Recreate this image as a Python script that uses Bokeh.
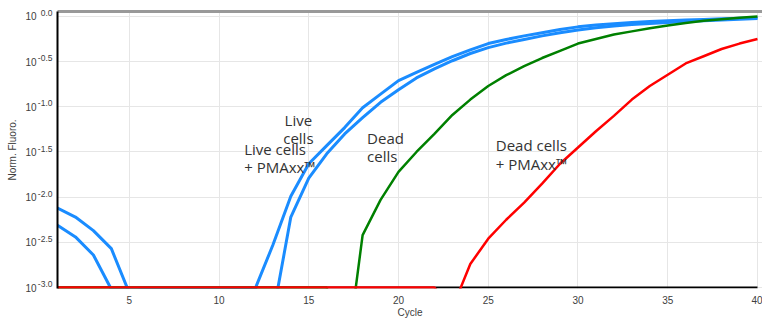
from bokeh.plotting import figure
from bokeh.models import (Range1d, FixedTicker, LinearAxis, Label, PrintfTickFormatter,
                          NumeralTickFormatter, Grid)
from bokeh.embed import file_html
from bokeh.resources import INLINE

# ---- data (y values are log10 of normalised fluorescence) ----
cycles = list(range(1, 41))

live_cells = [-2.12, -2.22, -2.37, -2.57, -3.06, -3.0, -3.0, -3.0, -3.0, -3.0,
              -3.0, -3.02, -2.53, -1.99, -1.63, -1.43, -1.23, -1.01, -0.86, -0.71,
              -0.62, -0.53, -0.445, -0.37, -0.30, -0.255, -0.215, -0.18, -0.145, -0.115,
              -0.095, -0.08, -0.067, -0.057, -0.048, -0.040, -0.033, -0.026, -0.019, -0.013]

live_pmaxx = [-2.31, -2.44, -2.64, -3.02, -3.0, -3.0, -3.0, -3.0, -3.0, -3.0,
              -3.0, -3.0, -3.31, -2.22, -1.79, -1.52, -1.30, -1.12, -0.95, -0.81,
              -0.68, -0.58, -0.49, -0.41, -0.345, -0.295, -0.255, -0.215, -0.18, -0.15,
              -0.125, -0.105, -0.09, -0.078, -0.067, -0.057, -0.048, -0.039, -0.03, -0.022]

dead_cells = [-3.0, -3.0, -3.0, -3.0, -3.0, -3.0, -3.0, -3.0, -3.0, -3.0,
              -3.0, -3.0, -3.0, -3.0, -3.0, -3.0, -3.94, -2.42, -2.03, -1.72,
              -1.50, -1.30, -1.09, -0.92, -0.77, -0.65, -0.55, -0.46, -0.38, -0.30,
              -0.25, -0.20, -0.165, -0.13, -0.10, -0.072, -0.047, -0.03, -0.015, 0.0]

dead_pmaxx = [-3.0, -3.0, -3.0, -3.0, -3.0, -3.0, -3.0, -3.0, -3.0, -3.0,
              -3.0, -3.0, -3.0, -3.0, -3.0, -3.0, -3.0, -3.0, -3.0, -3.0,
              -3.0, -3.0, -3.23, -2.74, -2.46, -2.25, -2.06, -1.85, -1.63, -1.45,
              -1.27, -1.10, -0.92, -0.77, -0.645, -0.52, -0.44, -0.36, -0.30, -0.25]

no_template = [-3.0, -3.0, -3.0, -3.0, -3.0, -3.0, -3.0, -3.0, -3.0, -3.0,
               -3.0, -3.0, -3.0, -3.0, -3.0, -3.0, -3.0, -3.0, -3.0, -3.0,
               -3.0, -3.0, -3.0, -3.0, -3.0, -3.0, -3.0, -3.0, -3.0, -3.0,
               -3.0, -3.0, -3.0, -3.0, -3.0, -3.0, -3.0, -3.0, -3.0, -3.0]

x_ticks = [5, 10, 15, 20, 25, 30, 35, 40]
y_ticks = [-3.0, -2.5, -2.0, -1.5, -1.0, -0.5, 0.0]

annotations = [
    ("Live", 14.42, -1.143, "center"),
    ("cells", 14.42, -1.344, "center"),
    ("Live cells", 11.40, -1.472, "left"),
    ("+ PMAxx™", 11.40, -1.670, "left"),
    ("Dead", 18.25, -1.341, "left"),
    ("cells", 18.25, -1.544, "left"),
    ("Dead cells", 25.42, -1.418, "left"),
    ("+ PMAxx™", 25.42, -1.637, "left"),
]

BLUE = "#1a8cff"
GREEN = "#008000"
RED = "#ff0000"
TICK_FONT = "Liberation Sans"
TXT = "#404040"

Y0, Y1 = -3.011, 0.055
SUP_SHIFT = 0.038   # raises the exponent labels by a few pixels

p = figure(width=762, height=320, output_backend="svg", toolbar_location=None,
           x_range=Range1d(1, 40.28), y_range=Range1d(Y0, Y1), y_axis_location=None,
           min_border_left=57, min_border_right=0, min_border_top=11, min_border_bottom=30)
p.extra_y_ranges = {"sup": Range1d(Y0 - SUP_SHIFT, Y1 - SUP_SHIFT)}
p.outline_line_color = None
p.background_fill_color = "white"

# x axis
p.xaxis.ticker = FixedTicker(ticks=x_ticks)
p.xaxis.axis_line_color = None
p.xaxis.major_tick_line_color = None
p.xaxis.minor_tick_line_color = None
p.xaxis.major_tick_out = 0
p.xaxis.major_tick_in = 0
p.xaxis.major_label_standoff = 7
p.xaxis.major_label_text_font = TICK_FONT
p.xaxis.major_label_text_font_size = "10px"
p.xaxis.major_label_text_color = TXT
p.xaxis.axis_label = "Cycle"
p.xaxis.axis_label_standoff = 0
p.xaxis.axis_label_text_font = TICK_FONT
p.xaxis.axis_label_text_font_size = "10px"
p.xaxis.axis_label_text_font_style = "normal"
p.xaxis.axis_label_text_color = TXT

# inner y axis: exponent (superscript) part of the tick labels, slightly raised
sup_axis = LinearAxis(y_range_name="sup", ticker=FixedTicker(ticks=y_ticks),
                      formatter=NumeralTickFormatter(format="0.0"),
                      axis_line_color="black", axis_line_width=2,
                      major_tick_line_color=None, minor_tick_line_color=None,
                      major_tick_out=0, major_tick_in=0, major_label_standoff=5,
                      major_label_text_font=TICK_FONT, major_label_text_font_size="8.5px",
                      major_label_text_color=TXT)
p.add_layout(sup_axis, "left")

# outer y axis: the base "10" and the axis title
base_axis = LinearAxis(ticker=FixedTicker(ticks=y_ticks), formatter=PrintfTickFormatter(format="10"),
                       axis_line_color=None, major_tick_line_color=None, minor_tick_line_color=None,
                       major_tick_out=0, major_tick_in=0, major_label_standoff=-2,
                       major_label_text_font=TICK_FONT, major_label_text_font_size="10px",
                       major_label_text_color=TXT,
                       axis_label="Norm. Fluoro.", axis_label_standoff=4,
                       axis_label_text_font=TICK_FONT, axis_label_text_font_size="10px",
                       axis_label_text_font_style="normal", axis_label_text_color=TXT)
p.add_layout(base_axis, "left")

top = LinearAxis(ticker=FixedTicker(ticks=[]), axis_line_color="#999999", axis_line_width=3,
                 major_tick_line_color=None, minor_tick_line_color=None,
                 major_tick_out=0, major_tick_in=0, major_label_standoff=0,
                 major_label_text_font_size="0px")
p.add_layout(top, "above")

p.xgrid.ticker = FixedTicker(ticks=x_ticks)
p.xgrid.grid_line_color = "#e6e6e6"
p.ygrid.ticker = FixedTicker(ticks=y_ticks)
p.ygrid.grid_line_color = "#e6e6e6"
p.add_layout(Grid(dimension=1, ticker=FixedTicker(ticks=y_ticks), grid_line_color="#e6e6e6"))

# curves
p.line(cycles, no_template, line_color="black", line_width=2)
p.line(cycles, live_cells, line_color=BLUE, line_width=3)
p.line(cycles, live_pmaxx, line_color=BLUE, line_width=3)
p.line(cycles, dead_cells, line_color=GREEN, line_width=2.5)
p.line(cycles, dead_pmaxx, line_color=RED, line_width=2.5)

for txt, x, y, al in annotations:
    p.add_layout(Label(x=x, y=y, text=txt, text_align=al, text_baseline="alphabetic",
                       text_font="Open Sans", text_font_size="15px", text_color="#333333"))

open("out.html", "w").write(file_html(p, INLINE))
